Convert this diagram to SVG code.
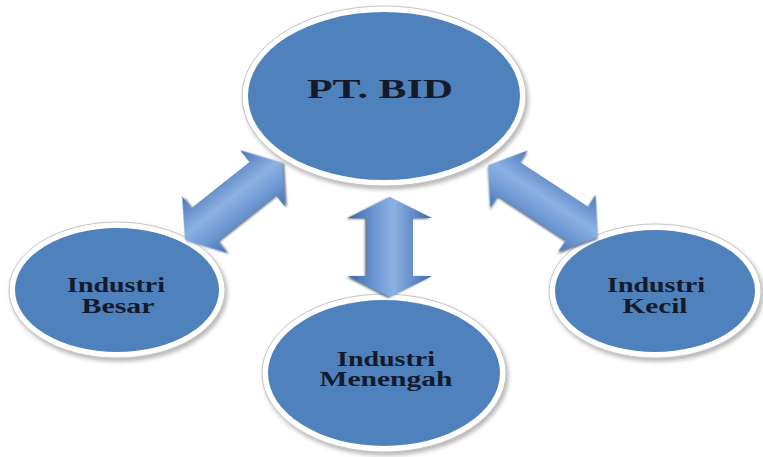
<svg xmlns="http://www.w3.org/2000/svg" width="763" height="457" viewBox="0 0 763 457">
  <style>
    .ring { fill: #ffffff; stroke: #c4c4c4; stroke-width: 1; filter: url(#ringShadow); }
    .disc { fill: #4f81bd; }
    .label { font-family: "Liberation Serif", "Times New Roman", serif; font-weight: bold; fill: #141a2a; text-anchor: middle; }
    .big { font-size: 27px; }
    .small { font-size: 20px; }
    .arrow { fill: url(#arrowGrad); filter: url(#arrowShadow); }
  </style>
  <defs>
    <filter id="ringShadow" x="-10%" y="-10%" width="125%" height="130%">
      <feDropShadow dx="2" dy="3" stdDeviation="2" flood-color="#7a7a7a" flood-opacity="0.55"/>
    </filter>
    <filter id="arrowShadow" x="-20%" y="-20%" width="140%" height="140%">
      <feDropShadow dx="1" dy="2" stdDeviation="1.2" flood-color="#1c355e" flood-opacity="0.7"/>
    </filter>
    <linearGradient id="arrowGrad" gradientUnits="userSpaceOnUse" x1="0" y1="-40" x2="0" y2="40">
      <stop offset="0" stop-color="#3f6eb2"/>
      <stop offset="0.45" stop-color="#8cb1e2"/>
      <stop offset="0.7" stop-color="#6b97d2"/>
      <stop offset="1" stop-color="#3d69aa"/>
    </linearGradient>
  </defs>

  <g id="nodes">
    <g id="node-ptbid">
      <ellipse class="ring" cx="384" cy="96" rx="142" ry="90"/>
      <ellipse class="disc" cx="384" cy="96" rx="136" ry="84"/>
      <text class="label big" x="380" y="98" textLength="146" lengthAdjust="spacingAndGlyphs">PT. BID</text>
    </g>
    <g id="node-besar">
      <ellipse class="ring" cx="117" cy="290" rx="108" ry="68"/>
      <ellipse class="disc" cx="117" cy="290" rx="102" ry="62"/>
      <text class="label small" x="116" y="292" textLength="98" lengthAdjust="spacingAndGlyphs">Industri</text>
      <text class="label small" x="118" y="313" textLength="73" lengthAdjust="spacingAndGlyphs">Besar</text>
    </g>
    <g id="node-kecil">
      <ellipse class="ring" cx="655" cy="291" rx="106" ry="67"/>
      <ellipse class="disc" cx="655" cy="291" rx="100" ry="61"/>
      <text class="label small" x="656" y="292" textLength="98" lengthAdjust="spacingAndGlyphs">Industri</text>
      <text class="label small" x="655" y="313" textLength="65" lengthAdjust="spacingAndGlyphs">Kecil</text>
    </g>
    <g id="node-menengah">
      <ellipse class="ring" cx="384" cy="373" rx="122" ry="79"/>
      <ellipse class="disc" cx="384" cy="373" rx="116" ry="73"/>
      <text class="label small" x="386" y="366" textLength="98" lengthAdjust="spacingAndGlyphs">Industri</text>
      <text class="label small" x="386" y="386" textLength="133" lengthAdjust="spacingAndGlyphs">Menengah</text>
    </g>
  </g>

  <g id="connectors">
    <!-- PT. BID <-> Industri Besar -->
    <g transform="translate(233.5,201.5) rotate(-38.4)">
      <path class="arrow" d="M62,0 L37,-36 L37,-21 L-37,-21 L-37,-36 L-62,0 L-37,36 L-37,21 L37,21 L37,36 Z"/>
    </g>
    <!-- PT. BID <-> Industri Menengah -->
    <g transform="translate(390,247) rotate(90)">
      <path class="arrow" d="M50,0 L29,-42 L29,-23 L-29,-23 L-29,-42 L-50,0 L-29,42 L-29,23 L29,23 L29,42 Z"/>
    </g>
    <!-- PT. BID <-> Industri Kecil -->
    <g transform="translate(543,201) rotate(33.2)">
      <path class="arrow" d="M65.5,0 L40.5,-34 L40.5,-20 L-40.5,-20 L-40.5,-34 L-65.5,0 L-40.5,34 L-40.5,20 L40.5,20 L40.5,34 Z"/>
    </g>
  </g>
</svg>
